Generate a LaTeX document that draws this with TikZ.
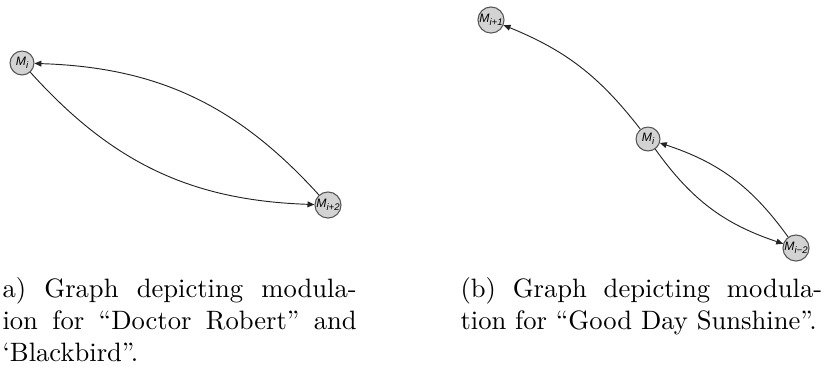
\documentclass[tikz,border=0pt]{standalone}
\usepackage{fontspec}
\newfontfamily\labelfont{Liberation Sans}
\usetikzlibrary{arrows.meta, positioning, calc}
\definecolor{nodefill}{RGB}{211,211,211}
\definecolor{nodeline}{RGB}{85,85,85}
\definecolor{edgeline}{RGB}{35,35,35}
\newcommand{\modlabel}[1]{{\labelfont\itshape M\raisebox{-0.28em}{\fontsize{3.6}{4}\selectfont #1}}}
\tikzset{
  modstate/.style={circle, draw=nodeline, fill=nodefill, minimum size=9pt,
    inner sep=0pt, line width=0.4pt, font=\fontsize{4.6}{5}\selectfont},
  edge/.style={-{Triangle[length=2.6pt, width=2.2pt]}, line width=0.35pt, color=edgeline},
  caption/.style={align=justify, inner sep=0pt, anchor=north west,
    font=\fontsize{10}{12}\selectfont}
}
\begin{document}
\begin{tikzpicture}[x=0.376pt, y=0.376pt]
  \useasboundingbox (0,0) rectangle (828,-377);

  % (a) Doctor Robert / Blackbird
  \node[modstate] (ma) at (22,-63) {\modlabel{i}};
  \node[modstate] (mb) at (328,-205) {\modlabel{i+2}};
  \draw[edge] (ma) to[bend right=23] (mb);
  \draw[edge] (mb) to[bend right=23] (ma);

  % (b) Good Day Sunshine
  \node[modstate] (up) at (491,-20) {\modlabel{i+1}};
  \node[modstate] (mid) at (648,-139) {\modlabel{i}};
  \node[modstate] (low) at (796,-248) {\modlabel{i−2}};
  \draw[edge] (mid) to[bend right=15] (up);
  \draw[edge] (mid) to[bend right=18] (low);
  \draw[edge] (low) to[bend right=18] (mid);

  % captions
  \node[caption, text width=133.2pt] (capa) at (2,-276.7) {a) Graph depicting modula-\linebreak ion for “Doctor Robert” and\linebreak ‘Blackbird”.};
  \node[caption, text width=136pt] (capb) at (460,-276.7) {(b) Graph depicting modula-\linebreak tion for “Good Day Sunshine”.};
\end{tikzpicture}
\end{document}
